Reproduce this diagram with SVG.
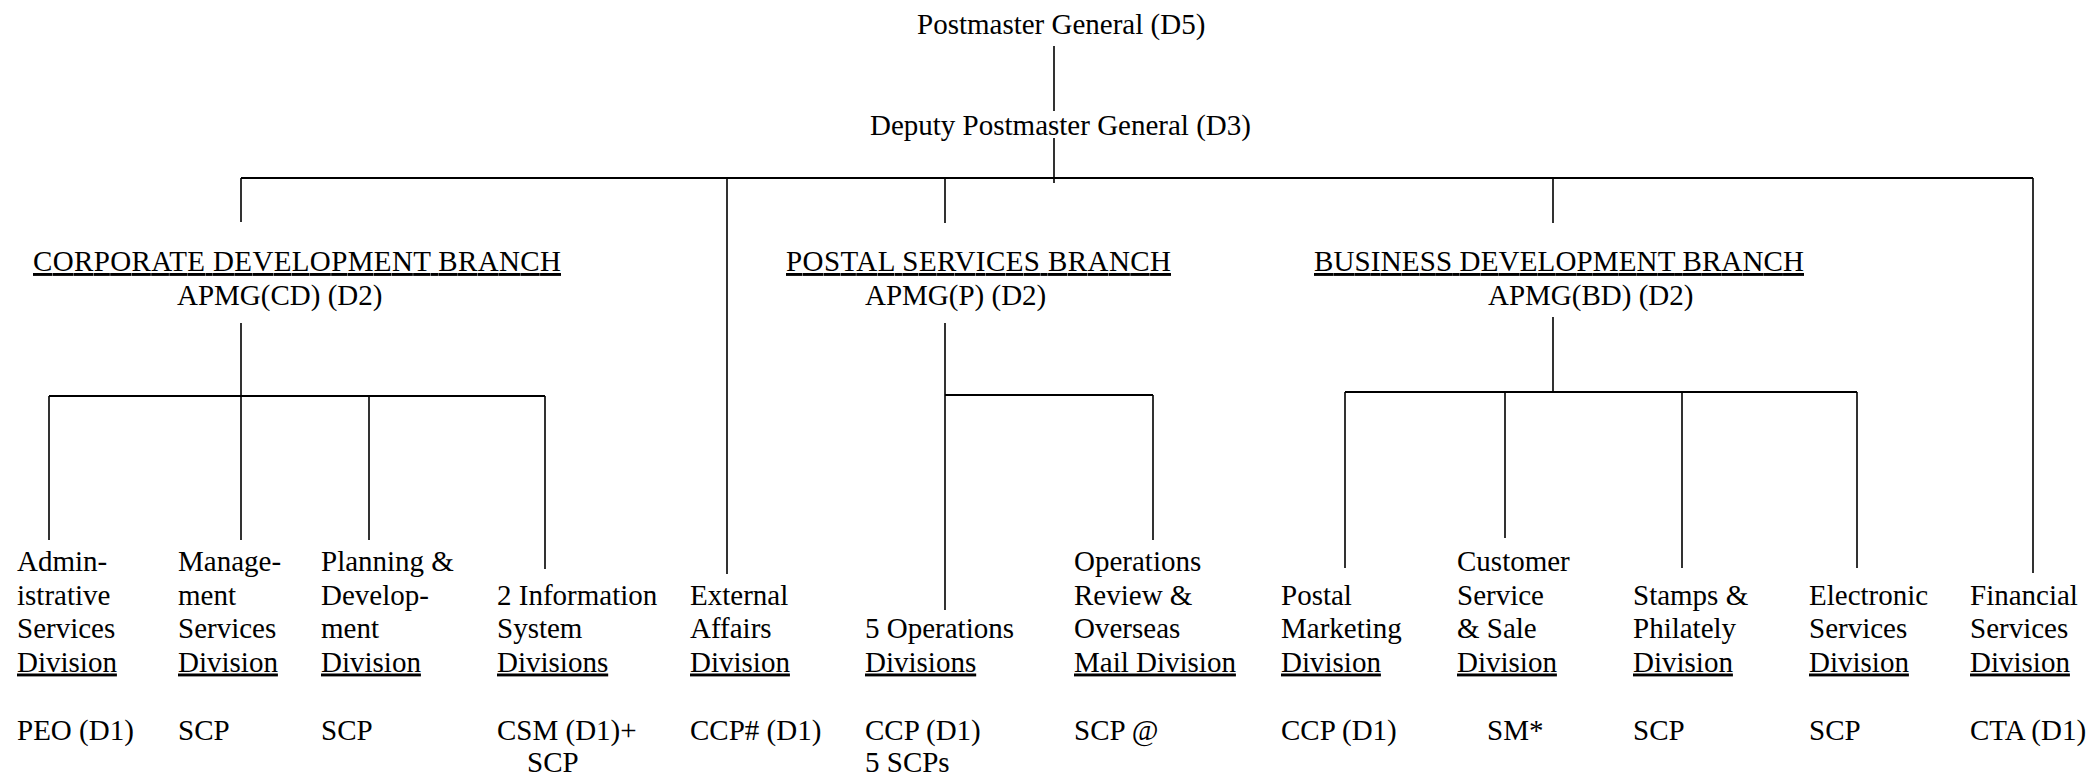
<svg xmlns="http://www.w3.org/2000/svg" width="2091" height="774" viewBox="0 0 2091 774">
<style>
text{font-family:"Liberation Serif","Times New Roman",serif;font-size:29px;fill:#000}
.u{text-decoration:underline}
.v{stroke:#000;stroke-width:1.6;fill:none}
.h{stroke:#000;stroke-width:2.2;fill:none}
</style>
<rect width="2091" height="774" fill="#fff"/>
<g id="connectors">
<path class="v" d="M1054 46V111M1054 138V183"/>
<path class="h" d="M241 178H2033"/>
<path class="v" d="M241 178V222M727 178V574M945 178V223M1553 178V223M2033 178V573"/>
<path class="v" d="M241 323V396M49 396V540M241 396V540M369 396V540M545 396V569"/>
<path class="h" d="M49 396H545"/>
<path class="v" d="M945 323V610M1153 395V540"/>
<path class="h" d="M945 395H1153"/>
<path class="v" d="M1553 317V392M1345 392V568M1505 392V538M1682 392V568M1857 392V568"/>
<path class="h" d="M1345 392H1857"/>
</g>
<g id="pmg"><text x="917" y="34">Postmaster General (D5)</text></g>
<g id="dpmg"><text x="870" y="135">Deputy Postmaster General (D3)</text></g>
<g id="cd-branch"><text x="33" y="271" class="u" textLength="528" lengthAdjust="spacing">CORPORATE DEVELOPMENT BRANCH</text><text x="177" y="305">APMG(CD) (D2)</text></g>
<g id="ps-branch"><text x="786" y="271" class="u" textLength="385" lengthAdjust="spacing">POSTAL SERVICES BRANCH</text><text x="865" y="305">APMG(P) (D2)</text></g>
<g id="bd-branch"><text x="1314" y="271" class="u" textLength="490" lengthAdjust="spacing">BUSINESS DEVELOPMENT BRANCH</text><text x="1488" y="305">APMG(BD) (D2)</text></g>
<g id="admin"><text x="17" y="571">Admin-</text><text x="17" y="604.5">istrative</text><text x="17" y="638">Services</text><text x="17" y="671.5" class="u">Division</text><text x="17" y="740">PEO (D1)</text></g>
<g id="management"><text x="178" y="571">Manage-</text><text x="178" y="604.5">ment</text><text x="178" y="638">Services</text><text x="178" y="671.5" class="u">Division</text><text x="178" y="740">SCP</text></g>
<g id="planning"><text x="321" y="571">Planning &amp;</text><text x="321" y="604.5">Develop-</text><text x="321" y="638">ment</text><text x="321" y="671.5" class="u">Division</text><text x="321" y="740">SCP</text></g>
<g id="info"><text x="497" y="604.5">2 Information</text><text x="497" y="638">System</text><text x="497" y="671.5" class="u">Divisions</text><text x="497" y="740">CSM (D1)+</text><text x="527" y="772">SCP</text></g>
<g id="external"><text x="690" y="604.5">External</text><text x="690" y="638">Affairs</text><text x="690" y="671.5" class="u">Division</text><text x="690" y="740">CCP# (D1)</text></g>
<g id="operations"><text x="865" y="638">5 Operations</text><text x="865" y="671.5" class="u">Divisions</text><text x="865" y="740">CCP (D1)</text><text x="865" y="772">5 SCPs</text></g>
<g id="ops-review"><text x="1074" y="571">Operations</text><text x="1074" y="604.5">Review &amp;</text><text x="1074" y="638">Overseas</text><text x="1074" y="671.5" class="u">Mail Division</text><text x="1074" y="740">SCP @</text></g>
<g id="marketing"><text x="1281" y="604.5">Postal</text><text x="1281" y="638">Marketing</text><text x="1281" y="671.5" class="u">Division</text><text x="1281" y="740">CCP (D1)</text></g>
<g id="customer"><text x="1457" y="571">Customer</text><text x="1457" y="604.5">Service</text><text x="1457" y="638">&amp; Sale</text><text x="1457" y="671.5" class="u">Division</text><text x="1487" y="740">SM*</text></g>
<g id="stamps"><text x="1633" y="604.5">Stamps &amp;</text><text x="1633" y="638">Philately</text><text x="1633" y="671.5" class="u">Division</text><text x="1633" y="740">SCP</text></g>
<g id="electronic"><text x="1809" y="604.5">Electronic</text><text x="1809" y="638">Services</text><text x="1809" y="671.5" class="u">Division</text><text x="1809" y="740">SCP</text></g>
<g id="financial"><text x="1970" y="604.5">Financial</text><text x="1970" y="638">Services</text><text x="1970" y="671.5" class="u">Division</text><text x="1970" y="740">CTA (D1)</text></g>
</svg>
